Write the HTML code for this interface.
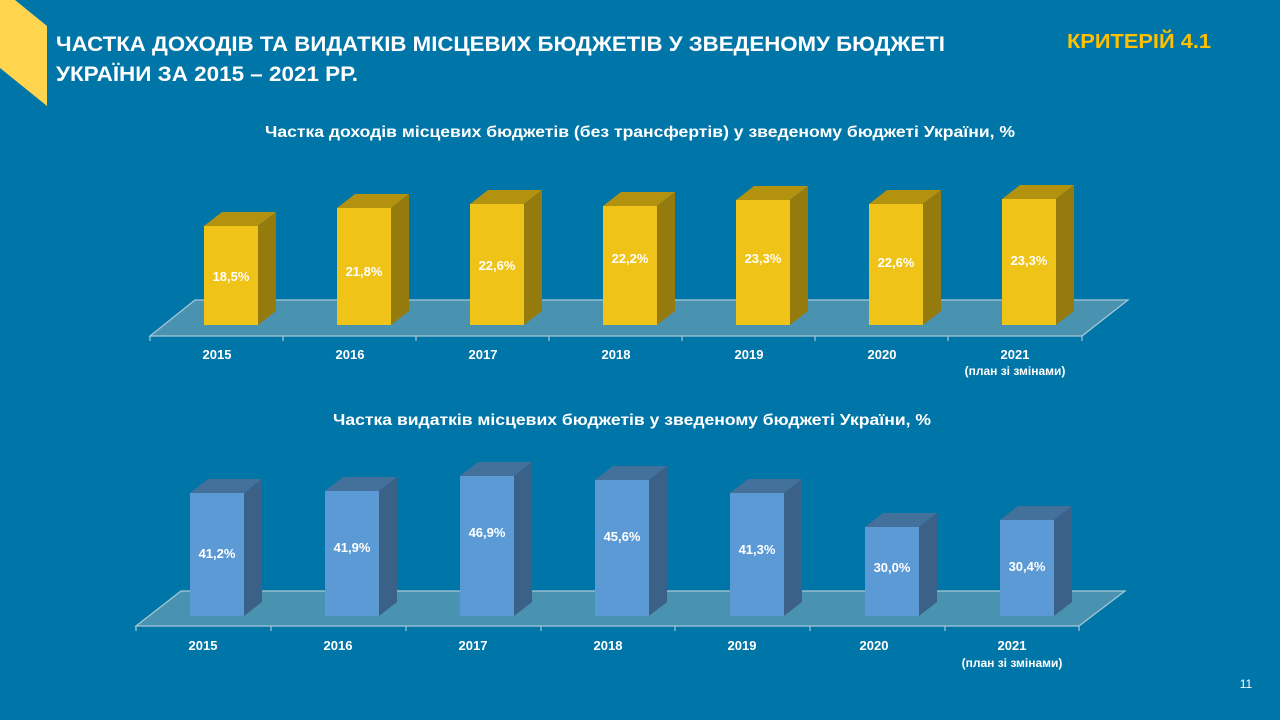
<!DOCTYPE html>
<html><head><meta charset="utf-8"><style>
html,body{margin:0;padding:0;background:#0076A8;}
svg{display:block;font-family:"Liberation Sans","DejaVu Sans",sans-serif;}
</style></head><body>
<svg width="1280" height="720" viewBox="0 0 1280 720" xmlns="http://www.w3.org/2000/svg">
<rect width="1280" height="720" fill="#0076A8"/>
<polygon points="0,0 15,0 47,26 47,106 0,68" fill="#FFD54F"/>
<text x="56" y="51" fill="#fff" font-size="21" font-weight="bold" textLength="889" lengthAdjust="spacingAndGlyphs">ЧАСТКА ДОХОДІВ ТА ВИДАТКІВ МІСЦЕВИХ БЮДЖЕТІВ У ЗВЕДЕНОМУ БЮДЖЕТІ</text>
<text x="56" y="81" fill="#fff" font-size="21" font-weight="bold" textLength="302" lengthAdjust="spacingAndGlyphs">УКРАЇНИ ЗА 2015 – 2021 РР.</text>
<text x="1067" y="48" fill="#FFC000" font-size="20" font-weight="bold" textLength="144" lengthAdjust="spacingAndGlyphs">КРИТЕРІЙ 4.1</text>
<text x="265" y="137" fill="#fff" font-size="16" font-weight="bold" textLength="750" lengthAdjust="spacingAndGlyphs">Частка доходів місцевих бюджетів (без трансфертів) у зведеному бюджеті України, %</text>
<text x="333" y="425" fill="#fff" font-size="16" font-weight="bold" textLength="598" lengthAdjust="spacingAndGlyphs">Частка видатків місцевих бюджетів у зведеному бюджеті України, %</text>
<text x="1246" y="688" fill="#fff" font-size="12" text-anchor="middle">11</text>

<polygon points="150,336 195,300 1128,300 1082,336" fill="#4A93B0" stroke="#A8C8D8" stroke-width="1.2"/>
<g stroke="#A8C8D8" stroke-width="1.2">
<line x1="150" y1="336" x2="150" y2="341"/><line x1="283" y1="336" x2="283" y2="341"/><line x1="416" y1="336" x2="416" y2="341"/><line x1="549" y1="336" x2="549" y2="341"/><line x1="682" y1="336" x2="682" y2="341"/><line x1="815" y1="336" x2="815" y2="341"/><line x1="948" y1="336" x2="948" y2="341"/><line x1="1082" y1="336" x2="1082" y2="341"/>
</g>
<polygon points="136,626 181,591 1125,591 1079,626" fill="#4A93B0" stroke="#A8C8D8" stroke-width="1.2"/>
<g stroke="#A8C8D8" stroke-width="1.2">
<line x1="136" y1="626" x2="136" y2="631"/><line x1="271" y1="626" x2="271" y2="631"/><line x1="406" y1="626" x2="406" y2="631"/><line x1="541" y1="626" x2="541" y2="631"/><line x1="675" y1="626" x2="675" y2="631"/><line x1="810" y1="626" x2="810" y2="631"/><line x1="945" y1="626" x2="945" y2="631"/><line x1="1079" y1="626" x2="1079" y2="631"/>
</g>

<g font-size="13" font-weight="bold" fill="#fff" text-anchor="middle">
<polygon points="204,226 222,212 276,212 258,226" fill="#B3920F"/><polygon points="258,226 276,212 276,311 258,325" fill="#957B0E"/><rect x="204" y="226" width="54" height="99" fill="#EFC318"/><text x="231" y="281">18,5%</text>
<polygon points="337,208 355,194 409,194 391,208" fill="#B3920F"/><polygon points="391,208 409,194 409,311 391,325" fill="#957B0E"/><rect x="337" y="208" width="54" height="117" fill="#EFC318"/><text x="364" y="276">21,8%</text>
<polygon points="470,204 488,190 542,190 524,204" fill="#B3920F"/><polygon points="524,204 542,190 542,311 524,325" fill="#957B0E"/><rect x="470" y="204" width="54" height="121" fill="#EFC318"/><text x="497" y="270">22,6%</text>
<polygon points="603,206 621,192 675,192 657,206" fill="#B3920F"/><polygon points="657,206 675,192 675,311 657,325" fill="#957B0E"/><rect x="603" y="206" width="54" height="119" fill="#EFC318"/><text x="630" y="263">22,2%</text>
<polygon points="736,200 754,186 808,186 790,200" fill="#B3920F"/><polygon points="790,200 808,186 808,311 790,325" fill="#957B0E"/><rect x="736" y="200" width="54" height="125" fill="#EFC318"/><text x="763" y="263">23,3%</text>
<polygon points="869,204 887,190 941,190 923,204" fill="#B3920F"/><polygon points="923,204 941,190 941,311 923,325" fill="#957B0E"/><rect x="869" y="204" width="54" height="121" fill="#EFC318"/><text x="896" y="267">22,6%</text>
<polygon points="1002,199 1020,185 1074,185 1056,199" fill="#B3920F"/><polygon points="1056,199 1074,185 1074,311 1056,325" fill="#957B0E"/><rect x="1002" y="199" width="54" height="126" fill="#EFC318"/><text x="1029" y="265">23,3%</text>
</g>
<g font-size="13" font-weight="bold" fill="#fff" text-anchor="middle">
<text x="217" y="359">2015</text><text x="350" y="359">2016</text><text x="483" y="359">2017</text><text x="616" y="359">2018</text><text x="749" y="359">2019</text><text x="882" y="359">2020</text><text x="1015" y="359">2021</text><text x="1015" y="375" font-size="12">(план зі змінами)</text>
</g>

<g font-size="13" font-weight="bold" fill="#fff" text-anchor="middle">
<polygon points="190,493 208,479 262,479 244,493" fill="#44709C"/><polygon points="244,493 262,479 262,602 244,616" fill="#3C6188"/><rect x="190" y="493" width="54" height="123" fill="#5B9AD5"/><text x="217" y="558">41,2%</text>
<polygon points="325,491 343,477 397,477 379,491" fill="#44709C"/><polygon points="379,491 397,477 397,602 379,616" fill="#3C6188"/><rect x="325" y="491" width="54" height="125" fill="#5B9AD5"/><text x="352" y="552">41,9%</text>
<polygon points="460,476 478,462 532,462 514,476" fill="#44709C"/><polygon points="514,476 532,462 532,602 514,616" fill="#3C6188"/><rect x="460" y="476" width="54" height="140" fill="#5B9AD5"/><text x="487" y="537">46,9%</text>
<polygon points="595,480 613,466 667,466 649,480" fill="#44709C"/><polygon points="649,480 667,466 667,602 649,616" fill="#3C6188"/><rect x="595" y="480" width="54" height="136" fill="#5B9AD5"/><text x="622" y="541">45,6%</text>
<polygon points="730,493 748,479 802,479 784,493" fill="#44709C"/><polygon points="784,493 802,479 802,602 784,616" fill="#3C6188"/><rect x="730" y="493" width="54" height="123" fill="#5B9AD5"/><text x="757" y="554">41,3%</text>
<polygon points="865,527 883,513 937,513 919,527" fill="#44709C"/><polygon points="919,527 937,513 937,602 919,616" fill="#3C6188"/><rect x="865" y="527" width="54" height="89" fill="#5B9AD5"/><text x="892" y="572">30,0%</text>
<polygon points="1000,520 1018,506 1072,506 1054,520" fill="#44709C"/><polygon points="1054,520 1072,506 1072,602 1054,616" fill="#3C6188"/><rect x="1000" y="520" width="54" height="96" fill="#5B9AD5"/><text x="1027" y="571">30,4%</text>
</g>
<g font-size="13" font-weight="bold" fill="#fff" text-anchor="middle">
<text x="203" y="650">2015</text><text x="338" y="650">2016</text><text x="473" y="650">2017</text><text x="608" y="650">2018</text><text x="742" y="650">2019</text><text x="874" y="650">2020</text><text x="1012" y="650">2021</text><text x="1012" y="667" font-size="12">(план зі змінами)</text>
</g>
</svg>
</body></html>
